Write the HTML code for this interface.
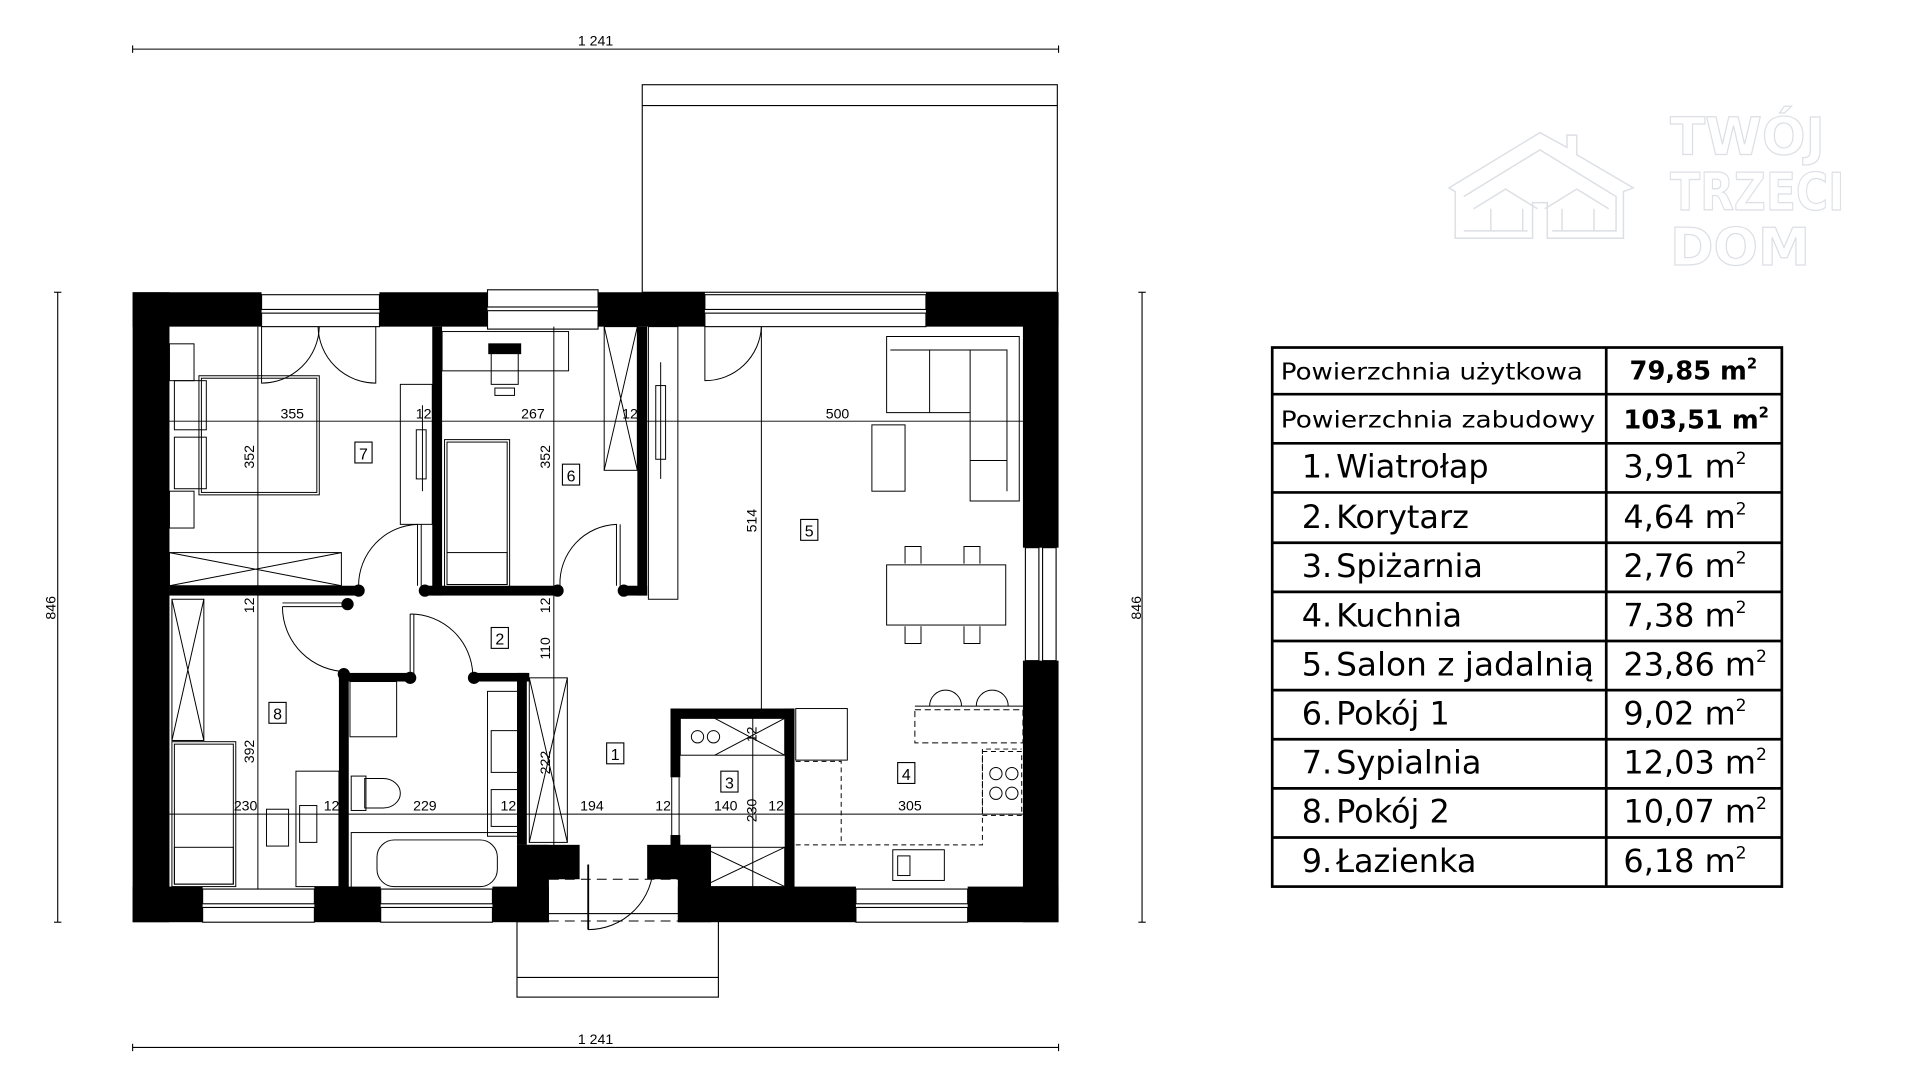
<!DOCTYPE html>
<html><head><meta charset="utf-8"><style>html,body{margin:0;padding:0;background:#fff;width:1920px;height:1080px;overflow:hidden}svg{display:block}</style></head><body>
<svg width="1920" height="1080" viewBox="0 0 1563.5 879.5" preserveAspectRatio="none" xmlns="http://www.w3.org/2000/svg" font-family="Liberation Sans, Arial, sans-serif">
<g stroke="#000" fill="none" stroke-width="0.9">
<line x1="108" y1="40" x2="862" y2="40"/><line x1="108" y1="37" x2="108" y2="43"/><line x1="862" y1="37" x2="862" y2="43"/>
<line x1="108" y1="853" x2="862" y2="853"/><line x1="108" y1="850" x2="108" y2="856"/><line x1="862" y1="850" x2="862" y2="856"/>
<line x1="47" y1="238" x2="47" y2="751"/><line x1="44" y1="238" x2="50" y2="238"/><line x1="44" y1="751" x2="50" y2="751"/>
<line x1="930" y1="238" x2="930" y2="751"/><line x1="927" y1="238" x2="933" y2="238"/><line x1="927" y1="751" x2="933" y2="751"/>
<rect x="523" y="69" width="338" height="169"/><line x1="523" y1="86" x2="861" y2="86"/>
<rect x="421" y="744" width="164" height="68"/><line x1="421" y1="796" x2="585" y2="796"/>
</g>
<g fill="#000" font-size="11.5" text-anchor="middle">
<text x="485" y="37">1 241</text><text x="485" y="850">1 241</text>
<text transform="translate(45,495) rotate(-90)">846</text>
<text transform="translate(929,495) rotate(-90)">846</text>
</g>
<g fill="#000">
<rect x="108" y="238" width="105" height="28"/>
<rect x="309" y="238" width="88" height="28"/>
<rect x="487" y="238" width="87" height="28"/>
<rect x="754" y="238" width="108" height="28"/>
<rect x="108" y="238" width="30" height="513"/>
<rect x="833" y="238" width="29" height="208"/>
<rect x="833" y="538" width="29" height="213"/>
<rect x="108" y="722" width="57" height="29"/>
<rect x="256" y="722" width="54" height="29"/>
<rect x="401" y="722" width="46" height="29"/>
<rect x="421" y="688" width="51" height="28"/>
<rect x="421" y="688" width="26" height="63"/>
<rect x="527" y="688" width="52" height="28"/>
<rect x="552" y="688" width="27" height="63"/>
<rect x="552" y="722" width="145" height="29"/>
<rect x="788" y="722" width="74" height="29"/>
<rect x="138" y="477" width="156" height="8"/>
<rect x="352" y="266" width="8" height="219"/>
<rect x="345" y="477" width="110" height="8"/>
<rect x="519" y="266" width="8" height="219"/>
<rect x="508" y="477" width="19" height="8"/>
<rect x="276" y="548" width="58" height="7"/>
<rect x="383" y="548" width="48" height="7"/>
<rect x="276" y="548" width="8" height="176"/>
<rect x="421" y="548" width="8" height="140"/>
<rect x="546" y="577" width="101" height="8"/>
<rect x="546" y="577" width="8" height="56"/>
<rect x="546" y="680" width="8" height="10"/>
<rect x="639" y="577" width="8" height="147"/>
<circle cx="292" cy="481" r="5"/><circle cx="346" cy="481" r="5"/><circle cx="454" cy="481" r="5"/><circle cx="508" cy="481" r="5"/>
<circle cx="280" cy="549" r="5"/><circle cx="334" cy="552" r="5"/><circle cx="386" cy="552" r="5"/><circle cx="283" cy="492" r="5"/>
</g>
<g stroke="#000" fill="#fff" stroke-width="0.9">
<rect x="213" y="240" width="96" height="12"/><rect x="213" y="255" width="96" height="11"/>
<rect x="397" y="236" width="90" height="14"/><rect x="397" y="253" width="90" height="15"/>
<rect x="574" y="240" width="180" height="12"/><rect x="574" y="255" width="180" height="11"/>
<rect x="165" y="724" width="91" height="12"/><rect x="165" y="739" width="91" height="12"/>
<rect x="310" y="724" width="91" height="12"/><rect x="310" y="739" width="91" height="12"/>
<rect x="697" y="724" width="91" height="12"/><rect x="697" y="739" width="91" height="12"/>
<rect x="835" y="446" width="11" height="92"/><rect x="849" y="446" width="11" height="92"/>
</g>
<g stroke="#000" fill="none" stroke-width="0.8">
<line x1="547" y1="633" x2="547" y2="680"/><line x1="553" y1="633" x2="553" y2="680"/>
<line x1="138" y1="343" x2="833" y2="343"/>
<line x1="138" y1="663" x2="833" y2="663"/>
<line x1="210" y1="266" x2="210" y2="724"/>
<line x1="451" y1="266" x2="451" y2="716"/>
<line x1="620" y1="266" x2="620" y2="584"/>
<line x1="613" y1="584" x2="613" y2="722"/>
<path d="M213 266 L213 312 A47 47 0 0 0 260 266"/><path d="M306 266 L306 312 A47 47 0 0 1 259 266"/>
<path d="M340 477 L340 427 A50 50 0 0 0 292 477"/><line x1="343" y1="427" x2="343" y2="477"/>
<path d="M502 477 L502 427 A48 48 0 0 0 456 477"/><line x1="505" y1="427" x2="505" y2="477"/>
<path d="M230 494 L282 494 M230 494 A53 53 0 0 0 283 547"/><line x1="230" y1="491" x2="282" y2="491"/>
<path d="M334 500 L334 549 M334 500 A51 51 0 0 1 385 549"/><line x1="337" y1="500" x2="337" y2="549"/>
<path d="M574 266 L574 310 A46 46 0 0 0 620 266"/>
<path d="M479 757 A53 53 0 0 0 532 704"/><line x1="479" y1="704" x2="479" y2="757" stroke-width="1.5"/>
<line x1="447" y1="716" x2="552" y2="716" stroke-dasharray="8 5"/><line x1="447" y1="750" x2="552" y2="750" stroke-dasharray="8 5"/>
<rect x="162" y="306" width="98" height="97"/><rect x="164" y="308" width="94" height="93"/>
<rect x="142" y="310" width="26" height="40"/><rect x="142" y="356" width="26" height="42"/>
<rect x="138" y="280" width="20" height="30"/><rect x="138" y="400" width="20" height="30"/>
<rect x="138" y="450" width="140" height="27"/><path d="M138 450 L278 477 M138 477 L278 450"/>
<rect x="326" y="313" width="26" height="114"/><path d="M344 330 L344 400"/><rect x="339" y="350" width="8" height="40"/>
<rect x="360" y="270" width="103" height="32"/>
<rect x="400" y="285" width="22" height="28"/><rect x="398" y="280" width="26" height="8" fill="#000"/><rect x="403" y="316" width="16" height="6"/>
<rect x="362" y="358" width="53" height="120"/><rect x="364" y="360" width="49" height="116"/><rect x="364" y="450" width="49" height="26"/>
<rect x="492" y="266" width="27" height="117"/><path d="M492 266 L519 383 M519 266 L492 383"/>
<rect x="528" y="266" width="24" height="222"/><rect x="534" y="314" width="8" height="60"/><line x1="538" y1="295" x2="538" y2="390"/>
<rect x="140" y="488" width="26" height="115"/><path d="M140 488 L166 603 M166 488 L140 603"/>
<rect x="140" y="604" width="52" height="118"/><rect x="142" y="606" width="48" height="114"/><rect x="142" y="690" width="48" height="30"/>
<rect x="241" y="628" width="35" height="94"/><rect x="217" y="659" width="18" height="30"/><rect x="244" y="656" width="14" height="30"/>
<rect x="285" y="555" width="38" height="45"/>
<rect x="307" y="684" width="98" height="38" rx="14"/><rect x="286" y="678" width="140" height="46"/>
<path d="M297 634 L312 634 A14 12 0 0 1 312 658 L297 658 Z"/><rect x="286" y="632" width="12" height="28"/>
<rect x="397" y="563" width="26" height="118"/><rect x="400" y="595" width="22" height="34"/><rect x="400" y="643" width="22" height="30"/>
<rect x="431" y="552" width="31" height="134"/><path d="M431 552 L462 686 M462 552 L431 686"/>
<rect x="554" y="585" width="85" height="30"/><path d="M582 585 L639 615 M639 585 L582 615"/><circle cx="568" cy="600" r="5"/><circle cx="581" cy="600" r="5"/>
<rect x="554" y="690" width="85" height="32"/><path d="M572 690 L639 722 M639 690 L572 722"/>
<rect x="648" y="577" width="42" height="42"/>
<path d="M648 620 L685 620 L685 688 L800 688 L800 610 L832 610" stroke-dasharray="4 3"/>
<rect x="745" y="578" width="88" height="27" stroke-dasharray="5 3"/>
<line x1="745" y1="575" x2="833" y2="575"/>
<path d="M757 575 A13 13 0 0 1 783 575 M795 575 A13 13 0 0 1 821 575"/>
<rect x="800" y="612" width="32" height="52" stroke-dasharray="4 3"/><circle cx="811" cy="630" r="5"/><circle cx="824" cy="630" r="5"/><circle cx="811" cy="646" r="5"/><circle cx="824" cy="646" r="5"/>
<rect x="727" y="692" width="42" height="25"/><rect x="731" y="697" width="10" height="16"/>
<line x1="648" y1="688" x2="685" y2="688" stroke-dasharray="4 3"/>
<path d="M722 274 L830 274 L830 408 L790 408 L790 336 L722 336 Z"/>
<path d="M725 285 L820 285 L820 400 M757 285 L757 336 M790 285 L790 336 M790 375 L820 375"/>
<rect x="710" y="346" width="27" height="54"/>
<rect x="722" y="460" width="97" height="49"/>
<path d="M737 459 L737 445 L750 445 L750 459 M785 459 L785 445 L798 445 L798 459 M737 510 L737 524 L750 524 L750 510 M785 510 L785 524 L798 524 L798 510"/>
</g>
<g fill="#000" font-size="11.5" text-anchor="middle">
<text x="238" y="341">355</text><text x="345" y="341">12</text><text x="434" y="341">267</text><text x="513" y="341">12</text><text x="682" y="341">500</text>
<text x="200" y="660">230</text><text x="270" y="660">12</text><text x="346" y="660">229</text><text x="414" y="660">12</text><text x="482" y="660">194</text><text x="540" y="660">12</text><text x="591" y="660">140</text><text x="632" y="660">12</text><text x="741" y="660">305</text>
<text transform="translate(207,372) rotate(-90)">352</text><text transform="translate(207,493) rotate(-90)">12</text><text transform="translate(207,612) rotate(-90)">392</text>
<text transform="translate(448,372) rotate(-90)">352</text><text transform="translate(448,493) rotate(-90)">12</text><text transform="translate(448,528) rotate(-90)">110</text><text transform="translate(448,621) rotate(-90)">222</text>
<text transform="translate(616,424) rotate(-90)">514</text><text transform="translate(616,660) rotate(-90)">230</text><text transform="translate(616,598) rotate(-90)">12</text>
</g>
<g font-size="13" text-anchor="middle">
<g stroke="#000" stroke-width="0.9" fill="#fff">
<rect x="289" y="360" width="14" height="17"/><rect x="458" y="378" width="14" height="17"/><rect x="652" y="423" width="14" height="17"/><rect x="400" y="511" width="14" height="17"/><rect x="219" y="572" width="14" height="17"/><rect x="494" y="605" width="14" height="17"/><rect x="587" y="628" width="14" height="17"/><rect x="731" y="621" width="14" height="17"/>
</g>
<text x="296" y="374">7</text><text x="465" y="392">6</text><text x="659" y="437">5</text><text x="407" y="525">2</text><text x="226" y="586">8</text><text x="501" y="619">1</text><text x="594" y="642">3</text><text x="738" y="635">4</text>
</g>
<g stroke="#dcdfe4" stroke-width="1.2" fill="none">
<path d="M1180 153 L1254 108 L1276 120 L1276 110 L1284 110 L1284 126 L1330 153 L1322 156 L1322 194 L1260 194 L1260 165 L1248 165 L1248 194 L1185 194 L1185 156 Z"/>
<path d="M1192 160 L1254 122 L1316 160 L1316 188 L1264 188 M1244 188 L1192 188 Z"/>
<path d="M1200 170 L1226 154 L1252 170 M1214 170 L1214 188 M1240 170 L1240 188 M1258 170 L1284 154 L1310 170 M1272 170 L1272 188 M1298 170 L1298 188"/>
</g>
<g fill="#fff" stroke="#dcdfe4" stroke-width="1" font-family="DejaVu Sans, sans-serif" font-size="42" font-weight="bold">
<text x="1360" y="126" textLength="126" lengthAdjust="spacingAndGlyphs">TWÓJ</text>
<text x="1360" y="171" textLength="142" lengthAdjust="spacingAndGlyphs">TRZECI</text>
<text x="1360" y="216" textLength="114" lengthAdjust="spacingAndGlyphs">DOM</text>
</g>
<g stroke="#000" stroke-width="2.2" fill="none">
<rect x="1036" y="283" width="415" height="439"/>
<line x1="1308" y1="283" x2="1308" y2="722"/>
<line x1="1036" y1="321" x2="1451" y2="321"/><line x1="1036" y1="361" x2="1451" y2="361"/><line x1="1036" y1="401" x2="1451" y2="401"/><line x1="1036" y1="442" x2="1451" y2="442"/><line x1="1036" y1="482" x2="1451" y2="482"/><line x1="1036" y1="522" x2="1451" y2="522"/><line x1="1036" y1="562" x2="1451" y2="562"/><line x1="1036" y1="602" x2="1451" y2="602"/><line x1="1036" y1="642" x2="1451" y2="642"/><line x1="1036" y1="682" x2="1451" y2="682"/>
</g>
<g fill="#000" font-family="DejaVu Sans, Liberation Sans, sans-serif">
<text x="1043" y="309" font-size="18.5" textLength="246" lengthAdjust="spacingAndGlyphs">Powierzchnia użytkowa</text>
<text x="1043" y="348" font-size="18.5" textLength="256" lengthAdjust="spacingAndGlyphs">Powierzchnia zabudowy</text>
<text x="1327" y="309" font-size="21" font-weight="bold">79,85 m<tspan font-size="12" dy="-9">2</tspan></text>
<text x="1322" y="349" font-size="21" font-weight="bold">103,51 m<tspan font-size="12" dy="-9">2</tspan></text>
<g font-size="26">
<text x="1060" y="389">1.<tspan x="1088">Wiatrołap</tspan></text>
<text x="1060" y="430">2.<tspan x="1088">Korytarz</tspan></text>
<text x="1060" y="470">3.<tspan x="1088">Spiżarnia</tspan></text>
<text x="1060" y="510">4.<tspan x="1088">Kuchnia</tspan></text>
<text x="1060" y="550">5.<tspan x="1088" textLength="210" lengthAdjust="spacingAndGlyphs">Salon z jadalnią</tspan></text>
<text x="1060" y="590">6.<tspan x="1088">Pokój 1</tspan></text>
<text x="1060" y="630">7.<tspan x="1088">Sypialnia</tspan></text>
<text x="1060" y="670">8.<tspan x="1088">Pokój 2</tspan></text>
<text x="1060" y="710">9.<tspan x="1088">Łazienka</tspan></text>
<text x="1322" y="389">3,91 m<tspan font-size="14" dy="-11">2</tspan></text>
<text x="1322" y="430">4,64 m<tspan font-size="14" dy="-11">2</tspan></text>
<text x="1322" y="470">2,76 m<tspan font-size="14" dy="-11">2</tspan></text>
<text x="1322" y="510">7,38 m<tspan font-size="14" dy="-11">2</tspan></text>
<text x="1322" y="550">23,86 m<tspan font-size="14" dy="-11">2</tspan></text>
<text x="1322" y="590">9,02 m<tspan font-size="14" dy="-11">2</tspan></text>
<text x="1322" y="630">12,03 m<tspan font-size="14" dy="-11">2</tspan></text>
<text x="1322" y="670">10,07 m<tspan font-size="14" dy="-11">2</tspan></text>
<text x="1322" y="710">6,18 m<tspan font-size="14" dy="-11">2</tspan></text>
</g>
</g>
</svg>
</body></html>
